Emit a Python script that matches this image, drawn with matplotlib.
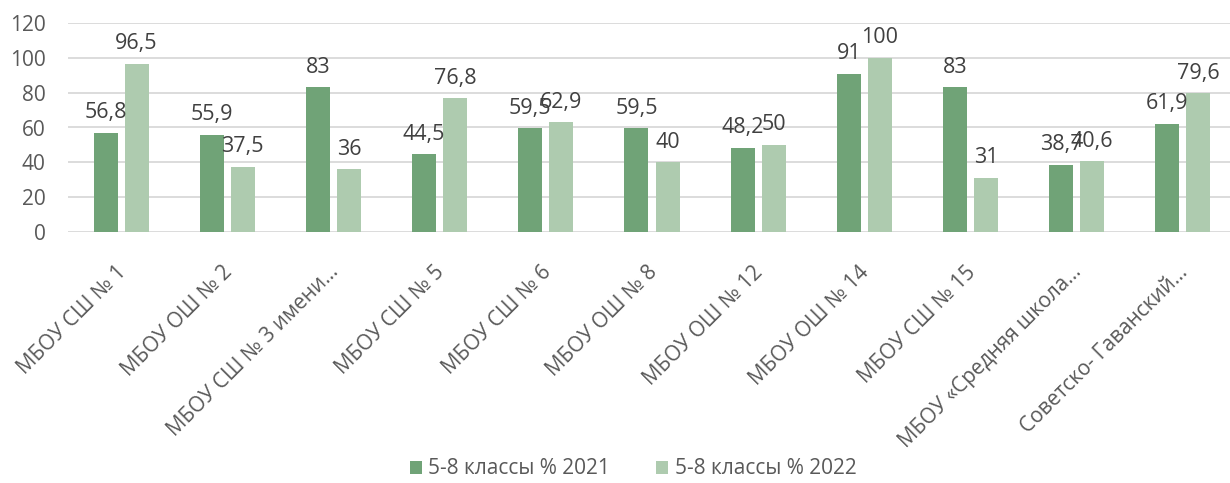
import numpy as np
import matplotlib.pyplot as plt
from matplotlib.transforms import ScaledTranslation

schools = ["МБОУ СШ № 1", "МБОУ ОШ № 2", "МБОУ СШ № 3 имени...", "МБОУ СШ № 5",
           "МБОУ СШ № 6", "МБОУ ОШ № 8", "МБОУ ОШ № 12", "МБОУ ОШ № 14",
           "МБОУ СШ № 15", "МБОУ «Средняя школа...", "Советско- Гаванский..."]
vals_2021 = [56.8, 55.9, 83, 44.5, 59.5, 59.5, 48.2, 91, 83, 38.7, 61.9]
vals_2022 = [96.5, 37.5, 36, 76.8, 62.9, 40, 50, 100, 31, 40.6, 79.6]
series_names = ["5-8 классы % 2021", "5-8 классы % 2022"]

dark = "#70A377"
light = "#AECBAF"
txt = "#595959"

plt.rcParams['font.family'] = ['Open Sans', 'DejaVu Sans']

W, H = 1230, 483
fig = plt.figure(figsize=(W / 100, H / 100), dpi=100)
# plot area runs a little past the right edge (chart was cropped)
ax = fig.add_axes([68 / W, 1 - 232 / H, 1168 / W, 209 / H])

x = np.arange(len(schools))
w = 0.226
off = 0.146
b1 = ax.bar(x - off, vals_2021, w, color=dark, label=series_names[0], zorder=2)
b2 = ax.bar(x + off, vals_2022, w, color=light, label=series_names[1], zorder=2)

fmt = lambda v: ("%g" % v).replace(".", ",")
for bars, vals in ((b1, vals_2021), (b2, vals_2022)):
    for r, v in zip(bars, vals):
        ax.annotate(fmt(v), (r.get_x() + r.get_width() / 2, v),
                    xytext=(0, 7), textcoords="offset points",
                    ha="center", va="bottom", fontsize=15.5, color="#404040", zorder=3)

ax.set_xlim(-0.5, len(schools) - 0.5)
ax.set_ylim(0, 120)
ax.set_yticks(range(0, 121, 20))
ax.yaxis.grid(True, color="#D9D9D9", lw=1.3, zorder=0)
ax.set_axisbelow(True)
for s in ax.spines.values():
    s.set_visible(False)
ax.tick_params(axis="both", length=0, colors=txt)
ax.tick_params(axis="y", pad=16, labelsize=15)

ax.set_xticks(x)
ax.set_xticklabels(schools, rotation=45, ha="right", rotation_mode="anchor", fontsize=15)
shift = ScaledTranslation(-4 / 72, -18 / 72, fig.dpi_scale_trans)
for lab in ax.get_xticklabels():
    lab.set_transform(lab.get_transform() + shift)

ax.legend(loc="center", bbox_to_anchor=(633 / W, 1 - 469 / H), bbox_transform=fig.transFigure,
          ncol=2, frameon=False, fontsize=15, handlelength=0.6, handleheight=0.6,
          handletextpad=0.3, columnspacing=2.2, labelcolor=txt)

fig.savefig("out.png", dpi=100)
